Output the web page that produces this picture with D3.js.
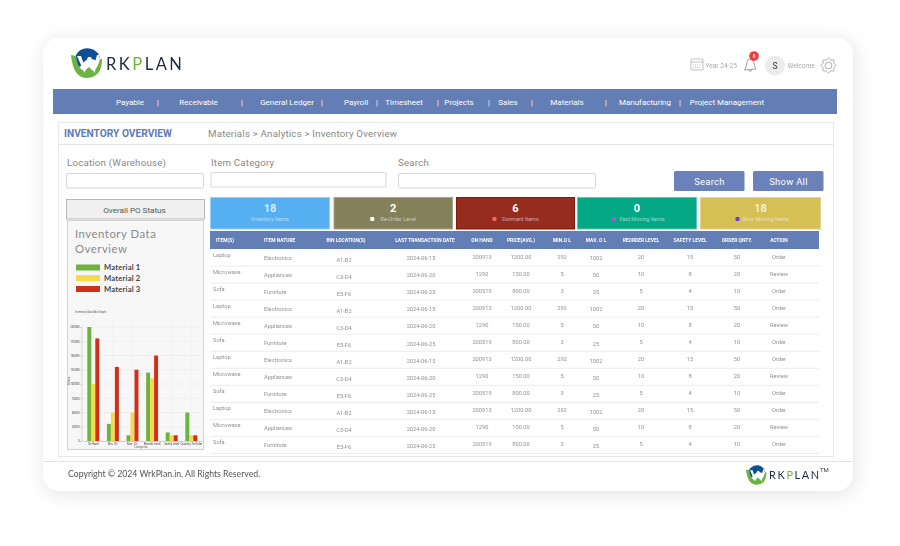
<!DOCTYPE html>
<html>
<head>
<meta charset="utf-8">
<style>
    html, body { margin: 0; padding: 0; background: #fff; }
    svg { display: block; }
    text { font-family: Roboto, sans-serif; }
    .soft { filter: blur(0.35px); }
    .chartAxis path, .chartAxis line { stroke: #999; stroke-width: 0.4; }
    .chartAxis text { font-size: 2.8px; fill: #444; }
</style>
<script src="https://d3js.org/d3.v7.min.js"></script>
</head>
<body>
<div id="page"></div>
<script>
    // menu and form text
    var navLabels = ["Payable","Receivable","General Ledger","Payroll","Timesheet","Projects","Sales","Materials","Manufacturing","Project Management"];
    var searchLabels = ["Location (Warehouse)","Item Category","Search"];
    var buttonLabels = ["Search","Show All"];

    // status cards
    var cardValues = [18,2,6,0,18];
    var cardLabels = ["Inventory Items","Re-Order Level","Dormant Items","Fast Moving Items","Slow Moving Items"];

    // bar graph
    var categories = ["On Hand","Min. O L","Max. O L","Reorder Level","Safety Level","Quantity To Order"];
    var materials = ["Material 1","Material 2","Material 3"];
    var material1 = [200000,30000,10000,120000,15000,50000];
    var material2 = [100000,50000,50000,110000,10000,10000];
    var material3 = [180000,130000,125000,150000,10000,10000];
    var valueTicks = [0,25000,50000,75000,100000,125000,150000,175000,200000];

    // table
    var tableHeads = ["ITEM(S)","ITEM NATURE","BIN LOCATION(S)","LAST TRANSACTION DATE","ON HAND","PRICE(AVG.)","MIN.O L","MAX. O L","REORDER LEVEL","SAFETY LEVEL","ORDER QNTY.","ACTION"];
    var items = ["Laptop","Microwave","Sofa","Laptop","Microwave","Sofa","Laptop","Microwave","Sofa","Laptop","Microwave","Sofa"];
    var natures = ["Electronics","Appliances","Furniture","Electronics","Appliances","Furniture","Electronics","Appliances","Furniture","Electronics","Appliances","Furniture"];
    var bins = ["A1-B2","C3-D4","E5-F6","A1-B2","C3-D4","E5-F6","A1-B2","C3-D4","E5-F6","A1-B2","C3-D4","E5-F6"];
    var dates = ["2024-06-15","2024-06-20","2024-06-25","2024-06-15","2024-06-20","2024-06-25","2024-06-15","2024-06-20","2024-06-25","2024-06-15","2024-06-20","2024-06-25"];
    var onHand = [200913,1290,200519,200913,1290,200519,200913,1290,200519,200913,1290,200519];
    var prices = ["1200.00","150.00","800.00","1200.00","150.00","800.00","1200.00","150.00","800.00","1200.00","150.00","800.00"];
    var minOL = [292,5,3,292,5,3,292,5,3,292,5,3];
    var maxOL = [1002,50,25,1002,50,25,1002,50,25,1002,50,25];
    var reorder = [20,10,5,20,10,5,20,10,5,20,10,5];
    var safety = [15,8,4,15,8,4,15,8,4,15,8,4];
    var orderQty = [50,20,10,50,20,10,50,20,10,50,20,10];
    var actions = ["Order","Review","Order","Order","Review","Order","Order","Review","Order","Order","Review","Order"];

    var svg = d3.select("#page").append("svg").attr("width",900).attr("height",546);

    var defs = svg.append("defs");
    var shadow = defs.append("filter").attr("id","cardShadow")
        .attr("x","-10%").attr("y","-10%").attr("width","120%").attr("height","120%");
    shadow.append("feDropShadow").attr("dx",2).attr("dy",3).attr("stdDeviation",10)
        .attr("flood-color","#000").attr("flood-opacity",0.11);

    var box = function(parent,x,y,w,h,fill,stroke,sw,r)
    {
        return parent.append("rect").attr("x",x).attr("y",y).attr("width",w).attr("height",h)
            .attr("fill",fill).attr("stroke",stroke||"none").attr("stroke-width",sw||0).attr("rx",r||0);
    }
    var label = function(parent,x,y,str,size,color,anchor,weight)
    {
        return parent.append("text").attr("x",x).attr("y",y).text(str)
            .attr("font-size",size).attr("fill",color)
            .attr("text-anchor",anchor||"start").attr("font-weight",weight||400);
    }

    // white card
    box(svg,43,38,810,453,"#fff",null,0,17).attr("filter","url(#cardShadow)");

    var page = svg.append("g").attr("class","soft");

    // logo, used twice
    var drawLogo = function(x,y,s)
    {
        var g = page.append("g").attr("transform","translate("+x+","+y+") scale("+s+")");
        g.append("path").attr("d","M3,15 A13.5,14 0 0 1 29,9 L26,13 Q16,7 9,19 Z").attr("fill","#0e4f96");
        g.append("path").attr("d","M0,7 L5,8 Q6,20 13,23 L18,19 L22,23 Q27,20 29,11 L31,11 Q31,30 15,30 Q2,29 0,7 Z").attr("fill","#6cb33f");
        g.append("path").attr("d","M6,8 L10,8 L13.5,18 L17,9 L20,9 L23,18 L26,7 L29,7 L23.5,25 L18.5,13 L13.5,25 Z").attr("fill","#fff");
        var t = g.append("text").attr("x",35).attr("y",21.5).attr("font-size",16.5)
            .attr("letter-spacing",2.5).attr("fill","#1d2b3f").style("font-family","Lato, sans-serif");
        t.append("tspan").text("RK");
        t.append("tspan").text("P").attr("fill","#6cb33f");
        t.append("tspan").text("LAN");
    }
    drawLogo(71,48,1);
    drawLogo(746,465,0.66);
    label(page,820,472,"TM",6,"#33415a");

    // top right icons
    var calendar = page.append("g").attr("fill","none").attr("stroke","#aaa").attr("stroke-width",0.7);
    calendar.append("rect").attr("x",691).attr("y",59).attr("width",12).attr("height",11).attr("rx",1);
    calendar.append("line").attr("x1",691).attr("x2",703).attr("y1",62).attr("y2",62);
    calendar.append("line").attr("x1",693).attr("x2",701).attr("y1",65).attr("y2",65).attr("stroke-dasharray","1 1");
    calendar.append("line").attr("x1",693).attr("x2",701).attr("y1",67.5).attr("y2",67.5).attr("stroke-dasharray","1 1");
    label(page,705.5,68,"Year 24-25",6.6,"#a8a8a8");

    page.append("path").attr("d","M744.5,70 Q747,66 747,62.5 Q747,59 750,59 Q753,59 754,63 Q754.5,66 756,69 Z M748.5,70.5 Q750,73 752,70")
        .attr("fill","none").attr("stroke","#777").attr("stroke-width",0.7);
    page.append("circle").attr("cx",754).attr("cy",56).attr("r",4.8).attr("fill","#ee3b3b");
    label(page,754,58,"8",5.5,"#fff","middle");

    page.append("circle").attr("cx",775).attr("cy",65.5).attr("r",10).attr("fill","#ececec");
    label(page,775,68.5,"S",8.5,"#333","middle");
    label(page,787.5,67.5,"Welcome",6.6,"#a8a8a8");

    // gear outline: eight teeth round a ring
    var gearLine = d3.lineRadial().curve(d3.curveCardinalClosed.tension(0.5));
    var gearPoints = d3.range(16).map(function(i){ return [i*Math.PI/8, i%2==0?7.6:5.9]; });
    var gear = page.append("g").attr("transform","translate(828.5,65.5)").attr("fill","none").attr("stroke","#888").attr("stroke-width",0.7);
    gear.append("path").attr("d",gearLine(gearPoints));
    gear.append("circle").attr("r",3.4);

    // menu bar
    box(page,53,89,784,25,"#637db5");
    var navX = [130,198.5,287,356,404,459,508,567,645,727];
    var navBar = [158,242,322,377,438,489,532,606,680];
    page.append("g").selectAll("text").data(navLabels).enter().append("text")
        .attr("x",function(d,i){ return navX[i]; }).attr("y",105)
        .attr("text-anchor","middle").attr("font-size",8).attr("fill","#fff")
        .text(function(d){ return d; });
    page.append("g").selectAll("text").data(navBar).enter().append("text")
        .attr("x",function(d){ return d; }).attr("y",105)
        .attr("text-anchor","middle").attr("font-size",8).attr("fill","#fff").text("|");

    // inventory panel
    box(page,58.5,122.5,775,334,"#fff","#e2e2e2",0.8);
    page.append("line").attr("x1",59).attr("x2",833).attr("y1",144.5).attr("y2",144.5).attr("stroke","#e6e6e6");
    label(page,64,137,"INVENTORY OVERVIEW",10.2,"#5f7ab8","start",700);
    label(page,208,137,"Materials > Analytics > Inventory Overview",9.7,"#888").attr("letter-spacing",0.2);

    // search row
    var fieldX = [67,211,398];
    var inputs = [[66.5,173.5,137,14.5],[211,172.5,175,14.5],[398.5,173.5,197,14.5]];
    searchLabels.forEach(function(d,i){
        label(page,fieldX[i],166,d,9.7,"#888").attr("letter-spacing",0.2);
        box(page,inputs[i][0],inputs[i][1],inputs[i][2],inputs[i][3],"#fff","#ccc",0.8,1.5);
    });
    var buttonX = [674,753];
    buttonLabels.forEach(function(d,i){
        box(page,buttonX[i],171,70.5,20,"#6a82b9",null,0,1.5);
        label(page,buttonX[i]+35.5,184.5,d,9.4,"#fff","middle").attr("letter-spacing",0.3);
    });

    // po status
    box(page,66.5,199.5,138,19.5,"#f0f0f0","#aaa",0.8);
    label(page,134.5,212.5,"Overall PO Status",8.1,"#555","middle");

    // bar graph panel
    box(page,67.5,220.5,136,229,"#f7f7f7","#c8c8c8",0.8);
    label(page,75,237.5,"Inventory Data",11.4,"#8a8a8a").style("font-family","Lato, sans-serif").attr("letter-spacing",0.5);
    label(page,75,252.5,"Overview",11.4,"#8a8a8a").style("font-family","Lato, sans-serif").attr("letter-spacing",0.5);

    var colors = ["#6db33f","#f5d94e","#d0301a"];
    var legendY = d3.scalePoint().domain(materials).range([267.5,289]);
    var legend = page.append("g").selectAll("g").data(materials).enter().append("g")
        .attr("transform",function(d){ return "translate(76,"+legendY(d)+")"; });
    legend.append("rect").attr("y",-3).attr("width",24).attr("height",6)
        .attr("fill",function(d,i){ return colors[i]; });
    legend.append("text").attr("x",28).attr("y",2.8).attr("font-size",7.6).attr("font-weight",700)
        .attr("letter-spacing",0.2).attr("fill","#444").style("font-family","Lato, sans-serif").text(function(d){ return d; });

    label(page,75,313,"Inventory Data Bar Graph",2.8,"#555");

    var plotLeft = 83.4, plotRight = 201.2, plotTop = 327, plotBottom = 441;
    var xScale = d3.scaleBand().domain(categories).range([plotLeft,plotRight]).paddingInner(0.39).paddingOuter(0.2);
    var xInner = d3.scaleBand().domain(materials).range([0,xScale.bandwidth()]);
    var yScale = d3.scaleLinear().domain([0,200000]).range([plotBottom,plotTop]);

    var plot = svg.append("g").attr("class","soft");
    plot.append("g").selectAll("line").data(valueTicks).enter().append("line")
        .attr("x1",plotLeft-2).attr("x2",203)
        .attr("y1",function(d){ return yScale(d); }).attr("y2",function(d){ return yScale(d); })
        .attr("stroke","#e8e8e8").attr("stroke-width",0.5);
    plot.append("g").selectAll("line").data(categories).enter().append("line")
        .attr("x1",function(d){ return xScale(d)+xScale.bandwidth()/2; }).attr("x2",function(d){ return xScale(d)+xScale.bandwidth()/2; })
        .attr("y1",plotTop-7).attr("y2",plotBottom)
        .attr("stroke","#eee").attr("stroke-width",0.5);

    var seriesList = [material1,material2,material3];
    seriesList.forEach(function(series,s){
        plot.append("g").selectAll("rect").data(series).enter().append("rect")
            .attr("x",function(d,i){ return xScale(categories[i])+xInner(materials[s]); })
            .attr("width",xInner.bandwidth())
            .attr("y",function(d){ return yScale(d); })
            .attr("height",function(d){ return yScale(0)-yScale(d); })
            .attr("fill",colors[s]);
    });

    plot.append("g").attr("class","chartAxis").attr("transform","translate("+(plotLeft-2)+",0)")
        .call(d3.axisLeft(yScale).tickValues(valueTicks).tickFormat(d3.format("d")).tickSize(1).tickPadding(0.8));
    plot.append("g").attr("class","chartAxis").attr("transform","translate(0,"+plotBottom+")")
        .call(d3.axisBottom(xScale).tickSize(1).tickPadding(0.8));
    label(plot,141,447.5,"Categories",2.8,"#666","middle");
    label(plot,0,0,"Values",2.8,"#666","middle").attr("transform","translate(69.5,381) rotate(-90)");

    // status cards
    var cardX = [210,333.5,456,577,700];
    var cardW = [120,119.5,119,120,121];
    var cardFill = ["#55aff0","#84805a","#962c1e","#04a884","#d6bf55"];
    var cardEdge = ["#9ad0f7","#a8a68a","#7e1a0c","#5cc9b0","#e3d38c"];
    var cardDot = [null,"#fff","#f26a6a","#9a5fd0","#6a3fd0"];
    var dotGap = [0,23,23,25,25];
    cardValues.forEach(function(d,i){
        box(page,cardX[i]+0.5,197.5,cardW[i]-1,31.5,cardFill[i],cardEdge[i],1);
        var mid = cardX[i]+cardW[i]/2;
        label(page,mid,212,d,11,"#fff","middle",700).attr("opacity",i==0||i==4?0.75:1);
        label(page,mid+(i==0?0:5),221,cardLabels[i],5.5,"#fff","middle").attr("opacity",0.55);
        if(cardDot[i])
        {
            box(page,mid-dotGap[i],217,4,4,cardDot[i],null,0,1);
        }
    });

    // table
    box(page,210,231,609,18,"#637db5");
    var colAlign = ["start","start","middle","middle","middle","middle","middle","middle","middle","middle","middle","middle"];
    var colX = [213,264,344,421,482,521,562,596,641,690,737,779];
    var headX = [216,264,346,425,482,521,562,596,641,690,737,779];
    page.append("g").selectAll("text").data(tableHeads).enter().append("text")
        .attr("x",function(d,i){ return headX[i]; }).attr("y",242)
        .attr("text-anchor",function(d,i){ return i<2?"start":"middle"; })
        .attr("font-size",4.9).attr("font-weight",700).attr("fill","#fff")
        .text(function(d){ return d; });

    var columns = [items,natures,bins,dates,onHand,prices,minOL,maxOL,reorder,safety,orderQty,actions];
    var colShift = [-2,1,3,1.8,0.2,0,0,1.8,0,0,0,0];
    var rowIndex = d3.range(items.length);
    var rowScale = d3.scaleBand().domain(rowIndex).range([249,453.5]);

    page.append("g").selectAll("line").data(rowIndex).enter().append("line")
        .attr("x1",210).attr("x2",819)
        .attr("y1",function(d){ return rowScale(d)+rowScale.bandwidth(); })
        .attr("y2",function(d){ return rowScale(d)+rowScale.bandwidth(); })
        .attr("stroke","#e4e4e4").attr("stroke-width",0.7);

    columns.forEach(function(col,c){
        page.append("g").selectAll("text").data(col).enter().append("text")
            .attr("x",colX[c]).attr("y",function(d,i){ return rowScale(i)+9.5+colShift[c]; })
            .attr("text-anchor",colAlign[c]).attr("font-size",5.7).attr("fill","#919191")
            .text(function(d){ return d; });
    });

    // footer
    page.append("line").attr("x1",43).attr("x2",853).attr("y1",461.5).attr("y2",461.5).attr("stroke","#e2e2e2");
    label(page,68,477,"Copyright © 2024 WrkPlan.in. All Rights Reserved.",8.7,"#555").style("font-family","Lato, sans-serif");
</script>
</body>
</html>
